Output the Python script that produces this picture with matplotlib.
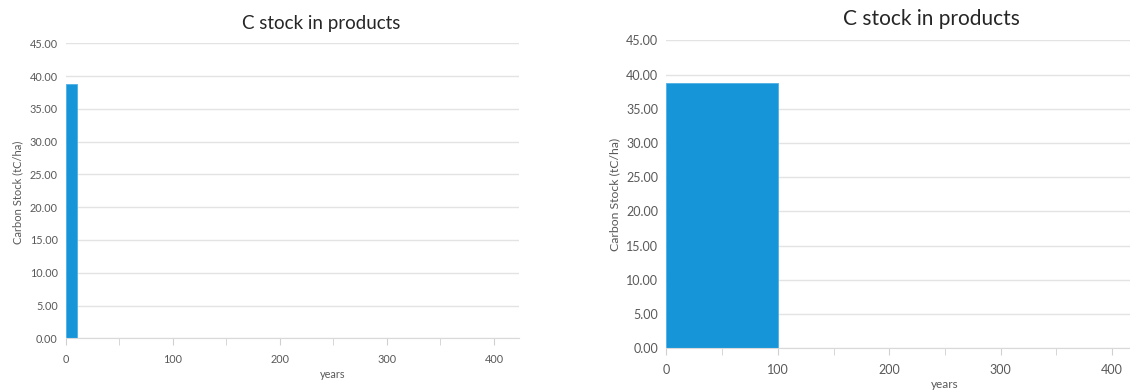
import matplotlib
matplotlib.use("Agg")
import matplotlib.pyplot as plt
from matplotlib.ticker import MultipleLocator, FormatStrFormatter

plt.rcParams['font.family'] = ['Lato', 'DejaVu Sans']

# Product carbon pool: rotation start, duration of storage (years), stock (tC/ha)
short_start = [0]
short_length = [10]
short_stock = [38.8]

long_start = [0]
long_length = [100]
long_stock = [38.8]

title_text = "C stock in products"
ylabel_text = "Carbon Stock (tC/ha)"
xlabel_text = "years"
y_ticks = [0, 5, 10, 15, 20, 25, 30, 35, 40, 45]
x_ticks = [0, 100, 200, 300, 400]

BAR = "#1696d8"
GRID = "#e3e3e3"
TXT = "#595959"

W, H = 1130, 390
fig = plt.figure(figsize=(W / 100, H / 100), dpi=100)


def px_axes(x0, y_top, x1, y_bot):
    return fig.add_axes([x0 / W, 1 - y_bot / H, (x1 - x0) / W, (y_bot - y_top) / H])


def style(ax, tick_fs):
    ax.set_ylim(0, 45)
    ax.set_xlim(0, 423)
    ax.set_yticks(y_ticks)
    ax.yaxis.set_major_formatter(FormatStrFormatter('%.2f'))
    ax.set_xticks(x_ticks)
    ax.xaxis.set_minor_locator(MultipleLocator(50))
    ax.grid(axis='y', color=GRID, linewidth=1.0)
    ax.set_axisbelow(True)
    for s in ('top', 'right', 'left'):
        ax.spines[s].set_visible(False)
    ax.spines['bottom'].set_color("#d9d9d9")
    ax.tick_params(axis='y', length=0, labelsize=tick_fs, labelcolor=TXT, pad=6)
    ax.tick_params(axis='x', which='major', length=5, color="#d0d0d0",
                   labelsize=tick_fs, labelcolor=TXT, pad=6)
    ax.tick_params(axis='x', which='minor', length=5, color="#d0d0d0")


# Left panel: short storage period
ax1 = px_axes(66, 43.3, 518.6, 338.3)
ax1.bar(short_start, short_stock, width=short_length, align='edge', color=BAR,
        edgecolor="#4fb0e4", linewidth=0.6)
style(ax1, 7.8)
fig.text(321 / W, 1 - 23 / H, title_text, ha='center', va='center', fontsize=13.5, color="#262626")
fig.text(18 / W, 1 - 192 / H, ylabel_text, ha='center', va='center', rotation=90, fontsize=8, color=TXT)
fig.text(333 / W, 1 - 374 / H, xlabel_text, ha='center', va='center', fontsize=7.8, color=TXT)

# Right panel: long storage period
ax2 = px_axes(666.4, 40.3, 666.4 + 423 * 1.114, 348.3)
ax2.bar(long_start, long_stock, width=long_length, align='edge', color=BAR,
        edgecolor="#4fb0e4", linewidth=0.6)
style(ax2, 9)
fig.text(931 / W, 1 - 19 / H, title_text, ha='center', va='center', fontsize=15, color="#262626")
fig.text(614.6 / W, 1 - 194 / H, ylabel_text, ha='center', va='center', rotation=90, fontsize=8.8, color=TXT)
fig.text(945 / W, 1 - 384 / H, xlabel_text, ha='center', va='center', fontsize=8.5, color=TXT)

fig.savefig("out.png", dpi=100, facecolor="white")
